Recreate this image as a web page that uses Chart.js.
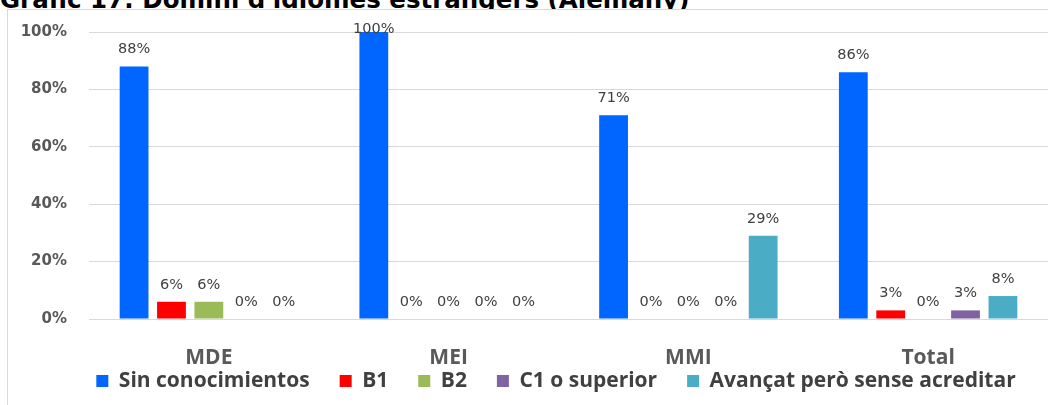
<!DOCTYPE html>
<html>
<head>
<meta charset="utf-8">
<script src="https://cdn.jsdelivr.net/npm/chart.js@4.4.1/dist/chart.umd.min.js"></script>
<style>
  body { margin: 0; background: #fff; width: 1048px; height: 405px; overflow: hidden; position: relative; }
  #titol { position: absolute; left: 0; top: -12px; font: bold 24.5px "DejaVu Sans", sans-serif; color: #000; white-space: nowrap; line-height: 1; z-index: 1; }
  #marc { position: absolute; left: 7px; top: 9px; right: 0; bottom: 0; background: #fff; border-left: 1px solid #d9d9d9; border-top: 1px solid #d9d9d9; z-index: 2; }
  #grafic { position: absolute; left: 0; top: 0; z-index: 3; }
</style>
</head>
<body>
<div id="titol">Gràfic 17: Domini d'idiomes estrangers (Alemany)</div>
<div id="marc"></div>
<canvas id="grafic" width="1048" height="405"></canvas>
<script>
const categories = ['MDE', 'MEI', 'MMI', 'Total'];
const seriesNames = ['Sin conocimientos', 'B1', 'B2', 'C1 o superior', 'Avançat però sense acreditar'];
const sinConocimientos = [88, 100, 71, 86];
const b1 = [6, 0, 0, 3];
const b2 = [6, 0, 0, 0];
const c1Superior = [0, 0, 0, 3];
const avancat = [0, 0, 29, 8];
const colors = ['#0066FF', '#FF0000', '#9BBB59', '#8064A2', '#4BACC6'];

// etiquetes de valor damunt de cada barra
const etiquetesPlugin = {
    id: 'etiquetes',
    afterLayout(chart) {
        // deixar que les etiquetes dels eixos surtin de la seva caixa
        chart.scales.x.bottom = chart.height;
        chart.scales.y.left = 0;
    },
    afterDatasetsDraw(chart) {
        const ctx = chart.ctx;
        ctx.save();
        ctx.font = '14.5px "DejaVu Sans", sans-serif';
        ctx.fillStyle = '#404040';
        ctx.textAlign = 'center';
        ctx.textBaseline = 'alphabetic';
        chart.data.datasets.forEach((ds, i) => {
            const meta = chart.getDatasetMeta(i);
            meta.data.forEach((bar, j) => {
                const y = Math.max(bar.y - 13, chart.chartArea.top + 1);
                ctx.fillText(ds.data[j] + '%', bar.x, y);
            });
        });
        ctx.restore();
    }
};

const valors = [sinConocimientos, b1, b2, c1Superior, avancat];

new Chart(document.getElementById('grafic'), {
    type: 'bar',
    data: {
        labels: categories,
        datasets: seriesNames.map((nom, i) => ({
            label: nom,
            data: valors[i],
            backgroundColor: colors[i],
            borderWidth: 0,
            categoryPercentage: 0.78,
            barPercentage: 0.77
        }))
    },
    options: {
        responsive: false,
        animation: false,
        devicePixelRatio: 1,
        layout: { padding: { top: 32, left: 64, right: 0, bottom: 3.5 } },
        plugins: {
            tooltip: { enabled: false },
            legend: {
                position: 'bottom',
                labels: {
                    boxWidth: 12,
                    boxHeight: 12,
                    padding: 30,
                    color: '#404040',
                    font: { family: 'Open Sans', weight: 'bold', size: 21 }
                }
            }
        },
        scales: {
            x: {
                afterFit(scale) { scale.height = 21.5; },
                grid: { display: false },
                border: { display: false },
                ticks: {
                    padding: 18,
                    color: '#595959',
                    font: { family: 'Open Sans', weight: 'bold', size: 21 }
                }
            },
            y: {
                min: 0,
                max: 100,
                afterFit(scale) { scale.width = 25; },
                grid: { color: '#d9d9d9', drawTicks: false },
                border: { display: false },
                ticks: {
                    stepSize: 20,
                    padding: 22,
                    color: '#595959',
                    font: { family: 'DejaVu Sans', weight: 'bold', size: 15 },
                    callback: v => v + '%'
                }
            }
        }
    },
    plugins: [etiquetesPlugin]
});
</script>
</body>
</html>
